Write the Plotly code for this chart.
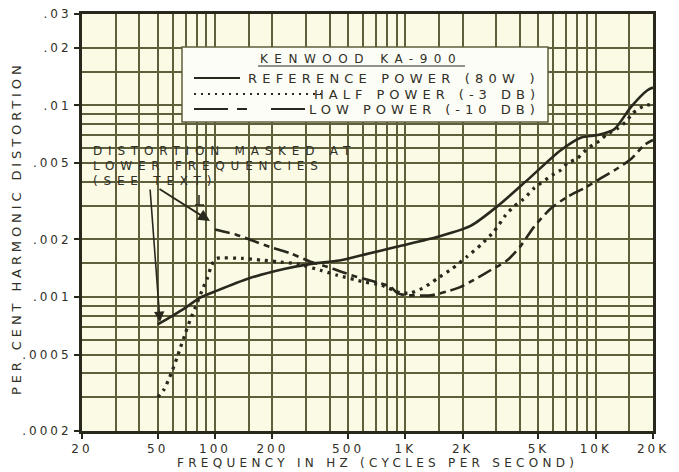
import plotly.graph_objects as go
import math

# ---------------- data ----------------
ref_freq = [50, 60, 70, 83, 100, 150, 230, 320, 450, 600, 900, 1500, 2200, 3100, 4400,
            6500, 8400, 10200, 12500, 15300, 18700, 20000]
ref_thd = [0.00072, 0.00080, 0.00088, 0.00099, 0.00107, 0.00125, 0.00140, 0.00149, 0.00155,
           0.00166, 0.00183, 0.00207, 0.00235, 0.00302, 0.0041, 0.0058, 0.0068, 0.0070,
           0.0075, 0.0098, 0.0120, 0.0124]

half_freq = [50, 54, 57, 60, 63, 66, 70, 74, 79, 87, 91, 96, 102, 140, 173, 212, 270, 358,
             438, 605, 740, 944, 1066, 1227, 1357, 1472, 1765, 2117, 2488, 2923, 3367, 3700,
             4124, 4470, 4745, 5930, 6560, 7110, 8030, 8880, 9640, 10650, 11300, 13040,
             14420, 15630, 17660, 20000]
half_thd = [0.00030, 0.00033, 0.00037, 0.00042, 0.00048, 0.00055, 0.00065, 0.00076, 0.00089,
            0.00113, 0.00125, 0.00147, 0.00159, 0.00159, 0.00156, 0.00153, 0.00149, 0.00138,
            0.00130, 0.00120, 0.00116, 0.00105, 0.00105, 0.00111, 0.00118, 0.00125, 0.00141,
            0.00163, 0.00187, 0.00220, 0.00268, 0.00296, 0.00321, 0.00348, 0.00370, 0.00434,
            0.00460, 0.00500, 0.00530, 0.00586, 0.00622, 0.00660, 0.00700, 0.00760, 0.00822,
            0.00910, 0.00986, 0.01020]

low_freq = [100, 130, 153, 203, 249, 317, 388, 456, 547, 740, 836, 906, 963, 1100, 1360,
            1660, 1950, 2290, 2800, 3440, 4040, 4750, 5810, 7110, 8700, 10650, 13040, 15320,
            18000, 20000]
low_thd = [0.00225, 0.00211, 0.00199, 0.00180, 0.00169, 0.00153, 0.00144, 0.00136, 0.00128,
           0.00118, 0.00113, 0.00105, 0.00103, 0.00102, 0.00102, 0.00107, 0.00113, 0.00123,
           0.00138, 0.00156, 0.00185, 0.00233, 0.00290, 0.00334, 0.00370, 0.00417, 0.00470,
           0.00525, 0.00622, 0.00660]

x_tick_vals = [20, 50, 100, 200, 500, 1000, 2000, 5000, 10000, 20000]
x_tick_text = ["20", "50", "100", "200", "500", "1K", "2K", "5K", "10K", "20K"]
x_minor_vals = [30, 40, 60, 70, 80, 90, 150, 300, 400, 600, 700, 800, 900, 1500, 3000, 4000,
                6000, 7000, 8000, 9000, 15000]
y_tick_vals = [0.0002, 0.0005, 0.001, 0.002, 0.005, 0.01, 0.02, 0.03]
y_tick_text = [".0002", ".0005", ".001", ".002", ".005", ".01", ".02", ".03"]
y_minor_vals = [0.0003, 0.0004, 0.0006, 0.0007, 0.0008, 0.0009, 0.0015, 0.003, 0.004, 0.006,
                0.007, 0.008, 0.009, 0.015]

legend_title = "KENWOOD KA-900"
series_names = ["REFERENCE POWER (80W )", "HALF POWER (-3 DB)", "LOW POWER (-10 DB)"]
note_lines = ["DISTORTION MASKED AT", "LOWER FREQUENCIES", "(SEE TEXT)"]
x_title = "FREQUENCY IN HZ (CYCLES PER SECOND)"
y_title = "PER CENT HARMONIC DISTORTION"

# ---------------- style ----------------
W, H = 679, 472
L, R, T, B = 82, 653, 14, 431
BG = "rgb(251,251,229)"
GRID = "rgb(95,95,60)"
INK = "rgb(40,40,28)"
TXT = "rgb(48,48,38)"
FONT = "DejaVu Sans"


def px(x):
    return (x - L) / (R - L)


def py(y):
    return (B - y) / (B - T)


def ls(text, sp):
    return f'<span style="letter-spacing:{sp}px">{text}</span>'


LOW_DASH = "15px,5px,6px,5px"
DOT_DASH = "3px,5px"

fig = go.Figure()
fig.add_trace(go.Scatter(x=ref_freq, y=ref_thd, mode="lines", name=series_names[0],
                         line=dict(color=INK, width=2.6, shape="spline", smoothing=0.7)))
fig.add_trace(go.Scatter(x=half_freq, y=half_thd, mode="lines", name=series_names[1],
                         line=dict(color=INK, width=3.3, dash=DOT_DASH, shape="spline",
                                   smoothing=0.5)))
fig.add_trace(go.Scatter(x=low_freq, y=low_thd, mode="lines", name=series_names[2],
                         line=dict(color=INK, width=2.6, dash=LOW_DASH, shape="spline",
                                   smoothing=0.6)))

axis_common = dict(
    type="log", showline=True, linecolor=INK, linewidth=3, mirror=True,
    showgrid=True, gridcolor=GRID, gridwidth=1.6, zeroline=False, automargin=False,
    ticks="outside", ticklen=5, tickwidth=1.5, tickcolor=INK,
    tickfont=dict(family=FONT, size=12, color=TXT),
)

fig.update_xaxes(
    **axis_common,
    range=[math.log10(20), math.log10(20000)],
    tickmode="array", tickvals=x_tick_vals,
    ticktext=[ls(t, 3) for t in x_tick_text],
    minor=dict(tickmode="array", tickvals=x_minor_vals, showgrid=True, gridcolor=GRID,
               gridwidth=1.6, ticks=""),
)
fig.update_yaxes(
    **axis_common,
    range=[math.log10(0.0002), math.log10(0.03)],
    tickmode="array", tickvals=y_tick_vals,
    ticktext=[ls(t, 3) for t in y_tick_text],
    minor=dict(tickmode="array", tickvals=y_minor_vals, showgrid=True, gridcolor=GRID,
               gridwidth=1.6, ticks=""),
)

shapes = []
annotations = []

# mask behind the note text
shapes.append(dict(type="rect", xref="paper", yref="paper", x0=px(91), x1=px(366),
                   y0=py(188), y1=py(144), fillcolor=BG, line=dict(width=0), layer="between"))
# small pointer mark
shapes.append(dict(type="line", xref="paper", yref="paper", x0=px(199), x1=px(199),
                   y0=py(195), y1=py(205), line=dict(color=INK, width=1.5)))
shapes.append(dict(type="line", xref="paper", yref="paper", x0=px(195), x1=px(204),
                   y0=py(205), y1=py(205), line=dict(color=INK, width=1.5)))

# legend box
shapes.append(dict(type="rect", xref="paper", yref="paper", x0=px(182), x1=px(548),
                   y0=py(122), y1=py(47), fillcolor="rgb(253,253,248)",
                   line=dict(color=GRID, width=1.5), layer="above"))
# underline of legend title
shapes.append(dict(type="line", xref="paper", yref="paper", x0=px(258), x1=px(465),
                   y0=py(66), y1=py(66), line=dict(color=INK, width=1.2), layer="above"))
# legend samples
shapes.append(dict(type="line", xref="paper", yref="paper", x0=px(194), x1=px(240),
                   y0=py(78), y1=py(78), line=dict(color=INK, width=2), layer="above"))
shapes.append(dict(type="line", xref="paper", yref="paper", x0=px(194), x1=px(321),
                   y0=py(94), y1=py(94), line=dict(color=INK, width=2, dash="2px,5px"),
                   layer="above"))
shapes.append(dict(type="line", xref="paper", yref="paper", x0=px(194), x1=px(314),
                   y0=py(109), y1=py(109),
                   line=dict(color=INK, width=2, dash="34px,9px,10px,24px"),
                   layer="above"))

lfont = dict(family=FONT, size=13, color=TXT)
annotations.append(dict(xref="paper", yref="paper", x=px(361), y=py(58.5), text=ls(legend_title, 6.5),
                        showarrow=False, xanchor="center", yanchor="middle",
                        font=dict(family=FONT, size=12, color=TXT)))
for name, yy, sp in zip(series_names, [78, 94.5, 109.5], [5.2, 5.0, 5.0]):
    annotations.append(dict(xref="paper", yref="paper", x=px(537 + sp), y=py(yy),
                            text=ls(name, sp), showarrow=False, xanchor="right",
                            yanchor="middle", font=lfont))

# note text
for line, yy in zip(note_lines, [151.5, 166.5, 181]):
    annotations.append(dict(xref="paper", yref="paper", x=px(92), y=py(yy),
                            text=ls(line, 5.8), showarrow=False, xanchor="left",
                            yanchor="middle", borderpad=0,
                            font=dict(family=FONT, size=12, color=TXT)))

# arrows
annotations.append(dict(xref="paper", yref="paper", x=px(160), y=py(322), ax=-10, ay=-134,
                        axref="pixel", ayref="pixel", text="", showarrow=True, arrowhead=2,
                        arrowsize=1.3, arrowwidth=1.6, arrowcolor=INK, standoff=0))
annotations.append(dict(xref="paper", yref="paper", x=px(210), y=py(221), ax=-52, ay=-33,
                        axref="pixel", ayref="pixel", text="", showarrow=True, arrowhead=2,
                        arrowsize=1.3, arrowwidth=1.8, arrowcolor=INK, standoff=0))

# axis titles
annotations.append(dict(xref="paper", yref="paper", x=px(378), y=py(463), text=ls(x_title, 4.3),
                        showarrow=False, xanchor="center", yanchor="middle",
                        font=dict(family=FONT, size=12, color=TXT)))
annotations.append(dict(xref="paper", yref="paper", x=px(17), y=py(228), text=ls(y_title, 3.9),
                        showarrow=False, xanchor="center", yanchor="middle", textangle=-90,
                        font=dict(family=FONT, size=13, color=TXT)))

fig.update_layout(
    width=W, height=H,
    margin=dict(l=L, r=W - R, t=T, b=H - B, pad=0),
    paper_bgcolor="white", plot_bgcolor=BG,
    showlegend=False,
    shapes=shapes, annotations=annotations,
    font=dict(family=FONT, color=TXT),
)

fig.write_html("out.html", config={"displayModeBar": False},
               post_script="document.body.style.margin='0';document.body.style.overflow='hidden';")
